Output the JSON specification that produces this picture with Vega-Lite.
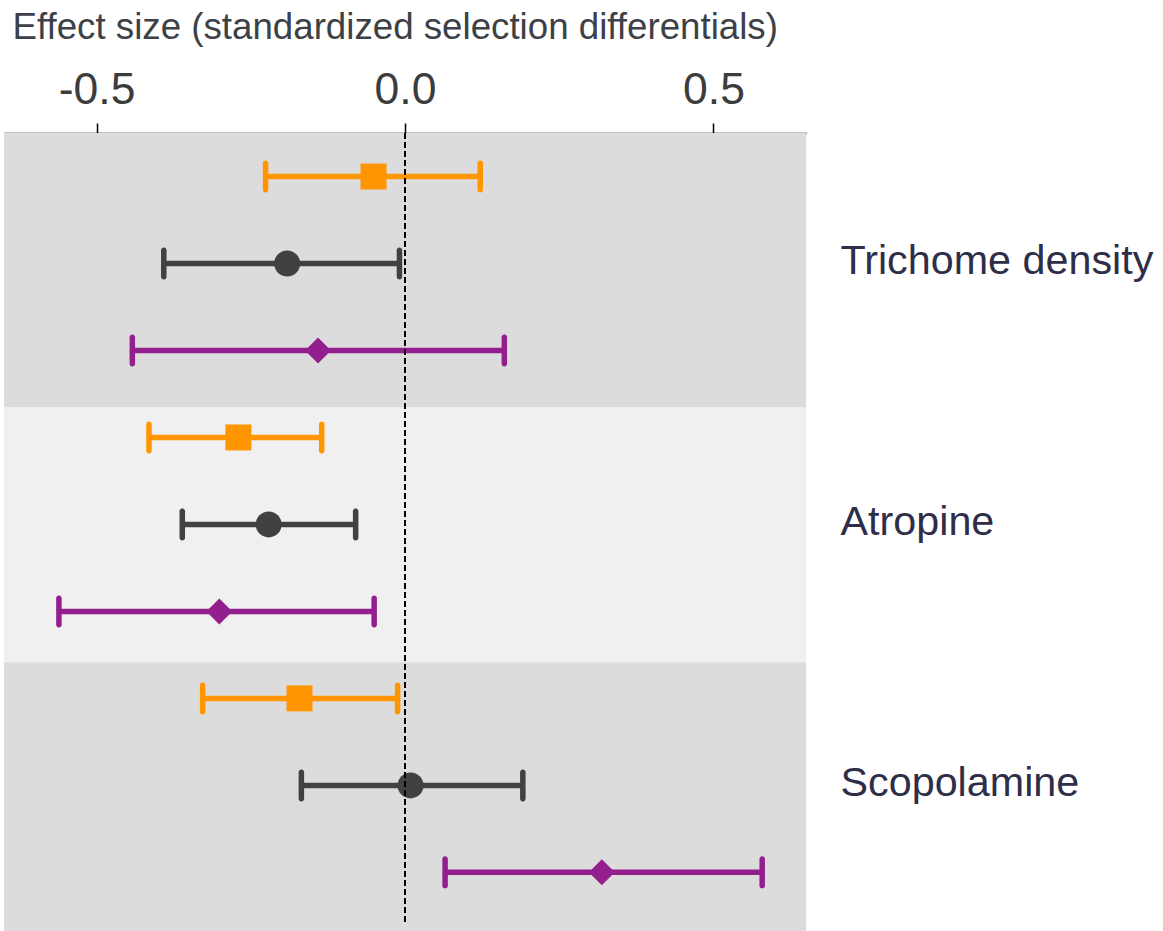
{
  "$schema": "https://vega.github.io/schema/vega-lite/v6.json",
  "autosize": {"type": "none"},
  "padding": {"left": 4, "top": 133, "right": 357, "bottom": 0},
  "width": 802,
  "height": 798,
  "background": "white",
  "config": {"view": {"stroke": null}, "font": "Liberation Sans"},
  "datasets": {
    "bands": [
      {"trait": "Trichome density", "top": 0.5, "bottom": 3.657, "shade": "dark"},
      {"trait": "Atropine", "top": 3.657, "bottom": 6.584, "shade": "light"},
      {"trait": "Scopolamine", "top": 6.584, "bottom": 9.674, "shade": "dark"}
    ],
    "estimates": [
      {"trait": "Trichome density", "row": 1, "series": "s1", "est": -0.051, "lo": -0.226, "hi": 0.122},
      {"trait": "Trichome density", "row": 2, "series": "s2", "est": -0.191, "lo": -0.391, "hi": -0.009},
      {"trait": "Trichome density", "row": 3, "series": "s3", "est": -0.141, "lo": -0.442, "hi": 0.161},
      {"trait": "Atropine", "row": 4, "series": "s1", "est": -0.270, "lo": -0.415, "hi": -0.135},
      {"trait": "Atropine", "row": 5, "series": "s2", "est": -0.221, "lo": -0.361, "hi": -0.080},
      {"trait": "Atropine", "row": 6, "series": "s3", "est": -0.301, "lo": -0.561, "hi": -0.050},
      {"trait": "Scopolamine", "row": 7, "series": "s1", "est": -0.171, "lo": -0.328, "hi": -0.012},
      {"trait": "Scopolamine", "row": 8, "series": "s2", "est": 0.009, "lo": -0.168, "hi": 0.191},
      {"trait": "Scopolamine", "row": 9, "series": "s3", "est": 0.319, "lo": 0.065, "hi": 0.579}
    ],
    "reference": [
      {"ref": 0, "from": 0.5, "to": 9.57}
    ]
  },
  "layer": [
    {
      "data": {"name": "bands"},
      "mark": {"type": "rect"},
      "encoding": {
        "x": {"datum": -0.65, "type": "quantitative", "scale": {"domain": [-0.65, 0.65], "nice": false, "zero": false},
          "axis": {
            "orient": "top",
            "values": [-0.5, 0, 0.5],
            "labelExpr": "replace(format(datum.value, '.1f'), '\u2212', '-')",
            "grid": false,
            "domainColor": "black",
            "domainWidth": 1.7,
            "tickColor": "black",
            "tickWidth": 1.5,
            "tickSize": 10,
            "labelFontSize": 44.5,
            "labelColor": "#3c3c3c",
            "labelFont": "Liberation Sans",
            "labelBaseline": "alphabetic",
            "labelPadding": 20,
            "title": "Effect size (standardized selection differentials)",
            "titleFontSize": 36.7,
            "titleFontWeight": "normal",
            "titleFont": "Liberation Sans",
            "titleColor": "#3c4147",
            "titleAlign": "left",
            "titleBaseline": "alphabetic",
            "titleX": 8,
            "titleY": -95
          }
        },
        "x2": {"datum": 0.65},
        "y": {"field": "top", "type": "quantitative", "scale": {"domain": [0.5, 9.674], "reverse": true, "nice": false, "zero": false},
          "axis": {
            "orient": "right",
            "values": [2, 5, 8],
            "labelExpr": "datum.value == 2 ? 'Trichome density' : (datum.value == 5 ? 'Atropine' : 'Scopolamine')",
            "domain": false,
            "ticks": false,
            "tickSize": 0,
            "grid": false,
            "title": null,
            "labelPadding": 34,
            "labelOffset": -2,
            "labelLimit": 0,
            "labelFontSize": 41.3,
            "labelFont": "Liberation Sans",
            "labelColor": "#2e2e48",
            "labelAlign": "left",
            "labelBaseline": "middle"
          }
        },
        "y2": {"field": "bottom"},
        "fill": {"field": "shade", "type": "nominal", "scale": {"domain": ["dark", "light"], "range": ["#dcdcdc", "#f0f0f0"]}, "legend": null}
      }
    },
    {
      "data": {"name": "estimates"},
      "mark": {"type": "rule", "strokeWidth": 5.5},
      "encoding": {
        "x": {"field": "lo", "type": "quantitative"},
        "x2": {"field": "hi"},
        "y": {"field": "row", "type": "quantitative"},
        "color": {"field": "series", "type": "nominal", "scale": {"domain": ["s1", "s2", "s3"], "range": ["#ff9600", "#414141", "#931f8e"]}, "legend": null}
      }
    },
    {
      "data": {"name": "estimates"},
      "mark": {"type": "tick", "orient": "vertical", "size": 32, "thickness": 5.5, "cornerRadius": 2.7, "opacity": 1},
      "encoding": {
        "x": {"field": "lo", "type": "quantitative"},
        "y": {"field": "row", "type": "quantitative"},
        "color": {"field": "series", "type": "nominal", "legend": null}
      }
    },
    {
      "data": {"name": "estimates"},
      "mark": {"type": "tick", "orient": "vertical", "size": 32, "thickness": 5.5, "cornerRadius": 2.7, "opacity": 1},
      "encoding": {
        "x": {"field": "hi", "type": "quantitative"},
        "y": {"field": "row", "type": "quantitative"},
        "color": {"field": "series", "type": "nominal", "legend": null}
      }
    },
    {
      "data": {"name": "estimates"},
      "mark": {"type": "point", "filled": true, "opacity": 1, "strokeWidth": 0},
      "encoding": {
        "x": {"field": "est", "type": "quantitative"},
        "y": {"field": "row", "type": "quantitative"},
        "color": {"field": "series", "type": "nominal", "legend": null},
        "shape": {"field": "series", "type": "nominal", "scale": {"domain": ["s1", "s2", "s3"], "range": ["square", "circle", "diamond"]}, "legend": null},
        "size": {"field": "series", "type": "nominal", "scale": {"domain": ["s1", "s2", "s3"], "range": [676, 676, 600]}, "legend": null}
      }
    },
    {
      "data": {"name": "reference"},
      "mark": {"type": "rule", "color": "black", "strokeWidth": 2, "strokeDash": [6, 3]},
      "encoding": {
        "x": {"field": "ref", "type": "quantitative"},
        "y": {"field": "from", "type": "quantitative"},
        "y2": {"field": "to"}
      }
    }
  ]
}
